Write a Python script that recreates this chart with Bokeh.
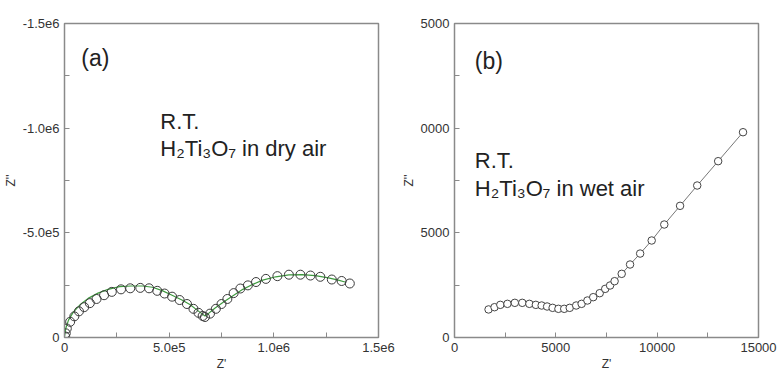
from bokeh.plotting import figure
from bokeh.layouts import row
from bokeh.models import Range1d, FixedTicker, Label
from bokeh.embed import file_html
from bokeh.resources import INLINE

# ---- (a) dry air: measured points (Z', Z'') ----
dry_zre = [3e3, 6e3, 1.1e4, 2.7e4, 4.7e4, 6.9e4, 9.4e4, 1.21e5, 1.53e5, 1.89e5, 2.26e5,
           2.70e5, 3.14e5, 3.62e5, 4.04e5, 4.43e5, 4.78e5, 5.14e5, 5.50e5, 5.85e5,
           6.16e5, 6.40e5, 6.60e5, 6.71e5, 6.95e5, 7.23e5, 7.50e5, 7.78e5, 8.08e5,
           8.40e5, 8.76e5, 9.15e5, 9.62e5, 1.017e6, 1.072e6, 1.127e6, 1.175e6,
           1.222e6, 1.277e6, 1.324e6, 1.363e6]
dry_zim = [-5e3, -2.0e4, -4.3e4, -7.5e4, -1.01e5, -1.25e5, -1.45e5, -1.64e5, -1.84e5,
           -2.02e5, -2.18e5, -2.30e5, -2.35e5, -2.37e5, -2.35e5, -2.23e5, -2.10e5,
           -1.95e5, -1.79e5, -1.60e5, -1.37e5, -1.18e5, -1.03e5, -9.8e4, -1.14e5,
           -1.37e5, -1.60e5, -1.84e5, -2.12e5, -2.34e5, -2.49e5, -2.65e5, -2.80e5,
           -2.93e5, -3.00e5, -3.00e5, -2.96e5, -2.90e5, -2.77e5, -2.70e5, -2.58e5]

# ---- (a) dry air: fitted curve ----
fit_zre = [0, 6e3, 1.9e4, 4.2e4, 7.4e4, 1.13e5, 1.60e5, 2.08e5, 2.63e5, 3.18e5, 3.73e5,
           4.20e5, 4.67e5, 5.14e5, 5.61e5, 6.01e5, 6.32e5, 6.56e5, 6.71e5, 6.87e5,
           7.18e5, 7.58e5, 8.05e5, 8.52e5, 9.00e5, 9.47e5, 1.009e6, 1.072e6, 1.135e6,
           1.198e6, 1.261e6, 1.308e6, 1.340e6]
fit_zim = [-5e3, -4.3e4, -8.3e4, -1.21e5, -1.56e5, -1.87e5, -2.12e5, -2.30e5, -2.43e5,
           -2.46e5, -2.46e5, -2.40e5, -2.24e5, -2.02e5, -1.79e5, -1.56e5, -1.32e5,
           -1.14e5, -1.03e5, -1.14e5, -1.40e5, -1.68e5, -2.00e5, -2.30e5, -2.54e5,
           -2.74e5, -2.90e5, -2.99e5, -3.00e5, -2.96e5, -2.85e5, -2.74e5, -2.65e5]

# ---- (b) wet air: measured points (Z', Z'') ----
wet_zre = [1680, 1975, 2261, 2612, 2977, 3344, 3694, 4013, 4300, 4570, 4841, 5127,
           5414, 5685, 6005, 6272, 6559, 6845, 7166, 7437, 7676, 7900, 8250, 8662,
           9160, 9730, 10351, 11130, 11976, 13010, 14236]
wet_zim = [1340, 1448, 1560, 1608, 1656, 1656, 1608, 1560, 1528, 1481, 1417, 1370,
           1370, 1417, 1528, 1608, 1767, 1926, 2117, 2324, 2484, 2690, 3041, 3487,
           4010, 4634, 5398, 6290, 7261, 8423, 9807]

# ticks
a_x_major = [0, 5e5, 1e6, 1.5e6]
a_x_minor = [2.5e5, 7.5e5, 1.25e6]
a_x_labels = {0: "0", 500000: "5.0e5", 1000000: "1.0e6", 1500000: "1.5e6"}
a_y_major = [0, -5e5, -1e6, -1.5e6]
a_y_minor = [-2.5e5, -7.5e5, -1.25e6]
a_y_labels = {0: "0", -500000: "-5.0e5", -1000000: "-1.0e6", -1500000: "-1.5e6"}
b_x_major = [0, 5000, 10000, 15000]
b_x_minor = [2500, 7500, 12500]
b_y_major = [0, 5000, 10000, 15000]
b_y_minor = [2500, 7500, 12500]
b_y_labels = {0: "0", 5000: "5000", 10000: "0000", 15000: "5000"}

FONT = "Liberation Sans"
FRAME = "#8a8a8a"
TICKTXT = "#333333"


def style(p, xt, xm, yt, ym):
    p.xaxis.ticker = FixedTicker(ticks=xt, minor_ticks=xm)
    p.yaxis.ticker = FixedTicker(ticks=yt, minor_ticks=ym)
    for ax in (p.xaxis[0], p.yaxis[0]):
        ax.axis_line_color = FRAME
        ax.major_tick_line_color = FRAME
        ax.minor_tick_line_color = FRAME
        ax.major_tick_in = 5
        ax.major_tick_out = 0
        ax.minor_tick_in = 5
        ax.minor_tick_out = 0
        ax.major_label_text_font = FONT
        ax.major_label_text_font_size = "13px"
        ax.major_label_text_color = TICKTXT
        ax.axis_label_text_font = FONT
        ax.axis_label_text_font_size = "12px"
        ax.axis_label_text_font_style = "normal"
        ax.axis_label_text_color = TICKTXT
        ax.major_label_standoff = 5
        ax.axis_label_standoff = 2
    p.grid.visible = False
    p.outline_line_color = FRAME
    p.outline_line_width = 1.5
    p.background_fill_color = "white"
    p.border_fill_color = "white"


def note(p, x, y, text, size, baseline="alphabetic"):
    p.add_layout(Label(x=x, y=y, text=text, text_font=FONT, text_font_size=size,
                       text_color="#222222", text_baseline=baseline))


# ---- panel (a) ----
pa = figure(width=398, height=381, output_backend="svg", toolbar_location=None,
            x_range=Range1d(0, 1.5e6), y_range=Range1d(0, -1.5e6),
            min_border_left=61, min_border_right=20, min_border_top=20,
            min_border_bottom=40, x_axis_label="Z'", y_axis_label="Z''")
style(pa, a_x_major, a_x_minor, a_y_major, a_y_minor)
pa.xaxis.major_label_overrides = a_x_labels
pa.yaxis.major_label_overrides = a_y_labels
pa.line(fit_zre, fit_zim, line_color="#3f9a3f", line_width=1.2)
pa.scatter(dry_zre, dry_zim, marker="circle", size=9, fill_color=None,
           line_color="#3a3a3a", line_width=1)
note(pa, 8.0e4, -1.336e6, "(a)", "23px", "middle")
note(pa, 4.58e5, -1.033e6, "R.T.", "22px")
note(pa, 4.58e5, -9.02e5, "H\u2082Ti\u2083O\u2087 in dry air", "22px")

# ---- panel (b) ----
pb = figure(width=382, height=381, output_backend="svg", toolbar_location=None,
            x_range=Range1d(0, 15000), y_range=Range1d(0, 15000),
            min_border_left=48, min_border_right=22, min_border_top=23,
            min_border_bottom=44, x_axis_label="Z'", y_axis_label="Z''")
style(pb, b_x_major, b_x_minor, b_y_major, b_y_minor)
pb.yaxis.major_label_overrides = b_y_labels
pb.line(wet_zre, wet_zim, line_color="#777777", line_width=1)
pb.scatter(wet_zre, wet_zim, marker="circle", size=7.5, fill_color="white",
           line_color="#444444", line_width=1)
note(pb, 1003, 13232, "(b)", "23px", "middle")
note(pb, 1003, 8455, "R.T.", "22px")
note(pb, 1003, 7118, "H\u2082Ti\u2083O\u2087 in wet air", "22px")

layout = row(pa, pb)
open("out.html", "w").write(file_html(layout, INLINE))
